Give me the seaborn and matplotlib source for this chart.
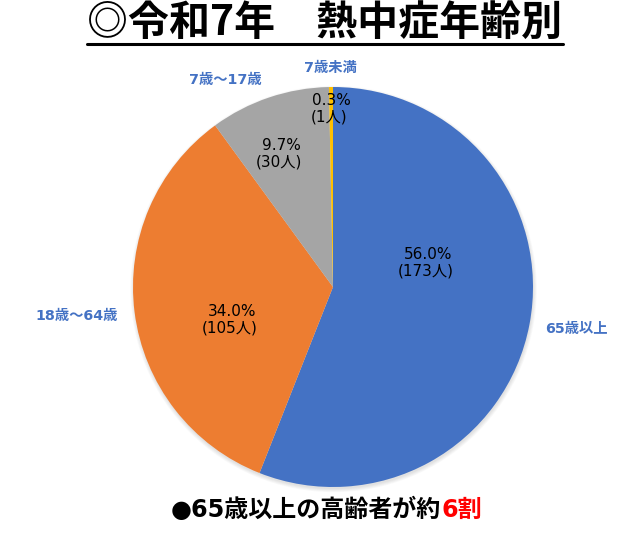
import matplotlib
matplotlib.use("Agg")
import matplotlib.pyplot as plt
import seaborn as sns
from matplotlib.lines import Line2D
from matplotlib.patches import Circle

categories = ["65歳以上", "18歳～64歳", "7歳～17歳", "7歳未満"]
percents = [56.0, 34.0, 9.7, 0.3]
counts = [173, 105, 30, 1]
colors = ["#4472C4", "#ED7D31", "#A5A5A5", "#FFC000"]
title_text = "◎令和7年　熱中症年齢別"
note_main = "●65歳以上の高齢者が約"
note_red = "6割"

sns.set_theme(style="white")
plt.rcParams['font.family'] = ['DejaVu Sans', 'Noto Sans CJK JP']
FAM_CJK = ['Noto Sans CJK JP', 'DejaVu Sans']

W, H = 626, 535
fig = plt.figure(figsize=(W / 100, H / 100), dpi=100)
fig.patch.set_facecolor("white")

# pie axes: center (333,287) px, radius 200 px
cx, cy, r = 333, 287, 200
ax = fig.add_axes([(cx - r) / W, (H - cy - r) / H, 2 * r / W, 2 * r / H])
# soft shadow
for i in range(5):
    ax.add_patch(Circle((0.003, -0.01), 1.0 + 0.004 * i, facecolor="black",
                        edgecolor="none", alpha=0.025, zorder=0, clip_on=False))
wedges, _ = ax.pie(counts, colors=colors, startangle=90, counterclock=False,
                   radius=1, wedgeprops=dict(linewidth=0, zorder=2))
ax.set_xlim(-1, 1)
ax.set_ylim(-1, 1)
ax.set_aspect("equal")
ax.axis("off")

# label placement (data coords, unit radius)
pct_pos = [(0.475, 0.1225), (-0.505, -0.1625), (-0.26, 0.665), (-0.01, 0.89)]
cat_pos = [(1.215, -0.21), (-1.28, -0.145), (-0.54, 1.035), (-0.015, 1.095)]
for p, c, (px, py) in zip(percents, counts, pct_pos):
    ax.annotate(f"{p:.1f}%", (px, py), xytext=(0, 6.1), textcoords="offset points",
                ha="center", va="center", fontsize=11, color="black",
                annotation_clip=False, zorder=5)
    ax.annotate(f"({c}人)", (px, py), xytext=(-1.5, -6.1), textcoords="offset points",
                ha="center", va="center", fontsize=11, color="black",
                annotation_clip=False, zorder=5)
for name, (lx, ly) in zip(categories, cat_pos):
    ax.text(lx, ly, name, ha="center", va="center", fontsize=10.3,
            fontweight="bold", color="#4472C4", clip_on=False)

# title with underline
t = fig.text(325 / W, 1 - 23 / H, title_text, ha="center", va="center",
             fontsize=29.5, fontweight="bold", color="black", family=FAM_CJK)
fig.canvas.draw()
renderer = fig.canvas.get_renderer()
bb = t.get_window_extent(renderer)
uy = (H - 44) / H
fig.add_artist(Line2D([bb.x0 / W, bb.x1 / W], [uy, uy], transform=fig.transFigure,
                      color="black", linewidth=2.2))

# bottom note with red part
y_note = 1 - 510 / H
t1 = fig.text(0, y_note, note_main, ha="left", va="center", fontsize=17.3,
              fontweight="bold", color="black")
t2 = fig.text(0, y_note, note_red, ha="left", va="center", fontsize=17.3,
              fontweight="bold", color="#FF0000")
fig.canvas.draw()
w1 = t1.get_window_extent(renderer).width
w2 = t2.get_window_extent(renderer).width
x_start = 326.5 - (w1 + w2) / 2
t1.set_x(x_start / W)
t2.set_x((x_start + w1) / W)

fig.savefig("out.png", dpi=100, facecolor="white")
